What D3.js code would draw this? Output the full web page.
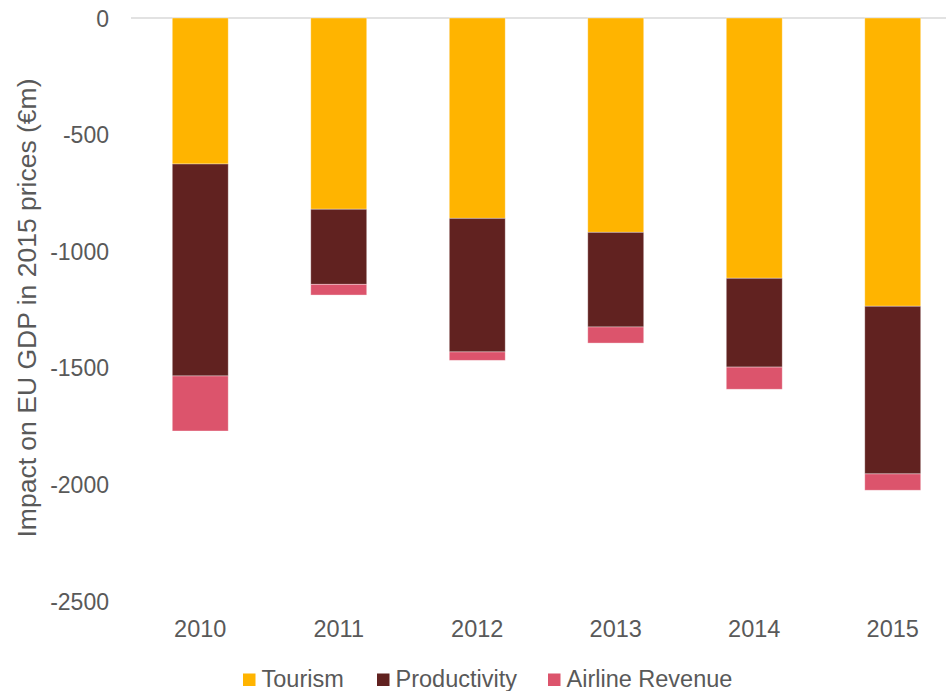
<!DOCTYPE html>
<html><head><meta charset="utf-8">
<script src="https://cdn.jsdelivr.net/npm/d3@7"></script>
<style>body{margin:0;background:#fff;} svg{display:block;font-family:"Liberation Sans",Arial,sans-serif;}</style>
</head><body>
<svg id="c" width="946" height="691"></svg>
<script>
const years = ["2010","2011","2012","2013","2014","2015"];
const tourism = [-626, -820, -859, -919, -1116, -1236];
const productivity = [-909, -322, -573, -406, -381, -719];
const airline = [-236, -46, -36, -69, -95, -70];
const seriesNames = ["Tourism","Productivity","Airline Revenue"];
const colors = ["#FFB400","#612220","#DC546C"];
const yTicks = [0,-500,-1000,-1500,-2000,-2500];

const svg = d3.select("#c");
const x = d3.scaleBand().domain(years).range([131,962]).paddingInner(0.596).paddingOuter(0.298);
const y = d3.scaleLinear().domain([0,-2500]).range([18,601]);

const table = years.map((yr,i)=>({year:yr, Tourism:tourism[i], Productivity:productivity[i], "Airline Revenue":airline[i]}));
const stack = d3.stack().keys(seriesNames).offset(d3.stackOffsetDiverging)(table);

svg.append("line").attr("x1",131).attr("x2",946).attr("y1",y(0)).attr("y2",y(0))
  .attr("stroke","#d9d9d9").attr("stroke-width",1.5);

stack.forEach((s,k)=>{
  svg.append("g").selectAll("rect").data(s).join("rect")
    .attr("x",d=>x(d.data.year))
    .attr("width",x.bandwidth())
    .attr("y",d=>y(Math.max(d[0],d[1])))
    .attr("height",d=>Math.abs(y(d[0])-y(d[1])))
    .attr("fill",colors[k])
    .attr("stroke","rgba(255,255,255,0.45)").attr("stroke-width",0.8);
});

const font = "Liberation Sans, Arial, sans-serif";
const yAxis = d3.axisLeft(y).tickValues(yTicks).tickFormat(d=>String(d)).tickSize(0).tickPadding(0);
const ga = svg.append("g").attr("transform","translate(109,0)").call(yAxis);
ga.select(".domain").remove();
ga.selectAll("text").attr("font-size",23).attr("fill","#595959").attr("font-family",font).attr("dy","0.35em");

const xAxis = d3.axisBottom(x).tickSize(0).tickPadding(0);
const gx = svg.append("g").attr("transform","translate(0,620)").call(xAxis);
gx.select(".domain").remove();
gx.selectAll("text").attr("font-size",23.5).attr("fill","#595959").attr("font-family",font).attr("dy","0.71em").attr("y",0);

svg.append("text").attr("transform","translate(36,308) rotate(-90)")
  .attr("text-anchor","middle").attr("font-size",26.5).attr("fill","#595959").attr("font-family",font)
  .text("Impact on EU GDP in 2015 prices (€m)");

const legX = [243,377,548];
const leg = svg.append("g");
seriesNames.forEach((n,i)=>{
  leg.append("rect").attr("x",legX[i]).attr("y",673.5).attr("width",12.5).attr("height",12.5).attr("fill",colors[i]);
  leg.append("text").attr("x",legX[i]+18.5).attr("y",687).attr("font-size",23.5).attr("fill","#595959").attr("font-family",font).text(n);
});
</script>
</body></html>
